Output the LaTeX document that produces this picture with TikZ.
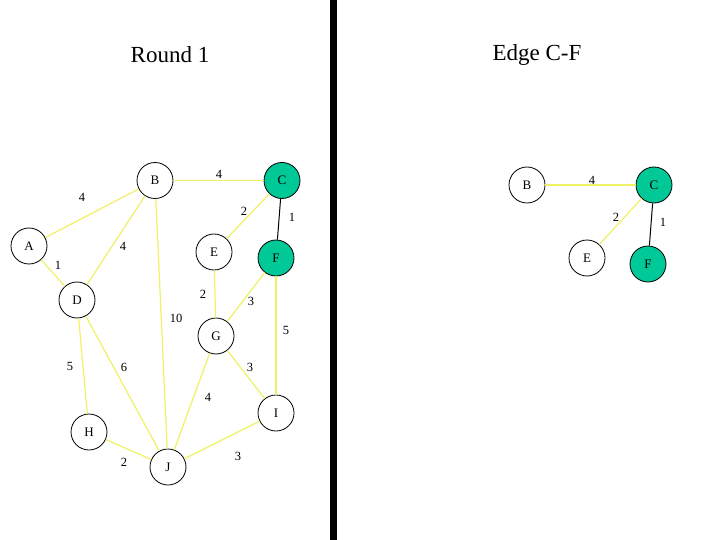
\documentclass[tikz,border=0pt]{standalone}
\usepackage{fontspec}
\setmainfont{Liberation Serif}
\usepackage{tikz}
\usetikzlibrary{positioning}
\definecolor{treegreen}{RGB}{0,200,150}
\definecolor{edgeyellow}{RGB}{240,240,100}

\begin{document}
\begin{tikzpicture}[x=1pt,y=-1pt,
  vtx/.style={circle,draw,thick,minimum size=36pt,inner sep=0pt,font=\fontsize{13}{13}\selectfont},
  intree/.style={vtx,fill=treegreen},
  edge/.style={edgeyellow,line width=1.2pt},
  tedge/.style={black,line width=1pt},
  wt/.style={font=\fontsize{12.5}{12.5}\selectfont},
  title/.style={font=\fontsize{23}{23}\selectfont}]
\useasboundingbox (0,0) rectangle (720,540);
\fill (330,0) rectangle (337,540);
\node[title] (t1) at (170,55) {Round 1};
\node[title] (t2) at (537,55) {Edge C-F};
% left graph
\node[vtx] (A) at (29,246) {A};
\node[vtx] (B) at (155,180.5) {B};
\node[intree] (C) at (282,180.5) {C};
\node[vtx] (D) at (77,300) {D};
\node[vtx] (E) at (214,252) {E};
\node[intree] (F) at (276,258) {F};
\node[vtx] (G) at (216,336) {G};
\node[vtx] (H) at (89,432) {H};
\node[vtx] (I) at (276,413) {I};
\node[vtx] (J) at (168,467) {J};
\draw[edge] (A) -- (B);
\draw[edge] (B) -- (C);
\draw[edge] (C) -- (E);
\draw[tedge] (C) -- (F);
\draw[edge] (B) -- (D);
\draw[edge] (A) -- (D);
\draw[edge] (E) -- (G);
\draw[edge] (F) -- (G);
\draw[edge] (B) -- (J);
\draw[edge] (F) -- (I);
\draw[edge] (D) -- (H);
\draw[edge] (D) -- (J);
\draw[edge] (G) -- (I);
\draw[edge] (G) -- (J);
\draw[edge] (H) -- (J);
\draw[edge] (J) -- (I);
\node[wt] (wAB) at (82,197) {4};
\node[wt] (wBC) at (219,174) {4};
\node[wt] (wCE) at (244,211) {2};
\node[wt] (wCF) at (292,217) {1};
\node[wt] (wBD) at (123,246) {4};
\node[wt] (wAD) at (58,265) {1};
\node[wt] (wEG) at (203,294) {2};
\node[wt] (wFG) at (251,301) {3};
\node[wt] (wBJ) at (176,318) {10};
\node[wt] (wFI) at (286,330) {5};
\node[wt] (wDH) at (70,366) {5};
\node[wt] (wDJ) at (124,367) {6};
\node[wt] (wGI) at (250,367) {3};
\node[wt] (wGJ) at (208,397) {4};
\node[wt] (wHJ) at (124,462) {2};
\node[wt] (wJI) at (238,456) {3};
% right graph
\node[vtx] (rB) at (527,185) {B};
\node[intree] (rC) at (654,185) {C};
\node[vtx] (rE) at (587,258) {E};
\node[intree] (rF) at (648,264) {F};
\draw[edge] (rB) -- (rC);
\draw[edge] (rC) -- (rE);
\draw[tedge] (rC) -- (rF);
\node[wt] (rwBC) at (592,180) {4};
\node[wt] (rwCE) at (616,217) {2};
\node[wt] (rwCF) at (663,222) {1};
\end{tikzpicture}
\end{document}
